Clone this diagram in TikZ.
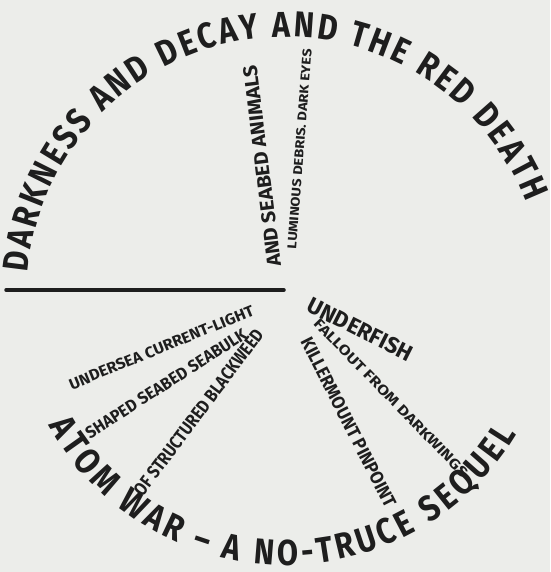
\documentclass[tikz,border=0pt]{standalone}
\usepackage{fontspec}
\setmainfont{Fira Sans}
\newfontfamily\hand{Fira Sans}[FakeStretch=0.85]
\usetikzlibrary{decorations.text}
\definecolor{paper}{RGB}{236,237,234}
\definecolor{ink}{RGB}{30,30,30}
\newcommand\arcfont{\hand\bfseries\fontsize{36}{36}\selectfont\color{ink}}
\newcommand\fitline[3]{\resizebox{#1pt}{#2pt}{\hand\bfseries #3}}
\begin{document}
\begin{tikzpicture}[x=1pt,y=1pt,
  inner/.style={inner sep=0pt, text=ink, anchor=center},
  rule/.style={line width=3.5pt, draw=ink, line cap=round}]
\fill[paper] (0,0) rectangle (550,572);
\useasboundingbox (0,0) rectangle (550,572);
\coordinate (c) at (285,277);
% outer arcs
\path[decorate, decoration={text along path, text align={fit to path},
  text={|\arcfont|DARKNESS AND DECAY AND THE RED DEATH}}]
  (c) ++(175:258) arc[start angle=175, end angle=21, radius=258];
\path[decorate, decoration={text along path, text align={fit to path},
  text={|\arcfont|ATOM WAR – A NO-TRUCE SEQUEL}}]
  (c) ++(209:270) arc[start angle=209, end angle=329, radius=270];
% dividing line
\coordinate (l1) at (6,282);
\coordinate (l2) at (284,282);
\draw[rule] (l1) -- (l2);
% inner lines
\node[inner, rotate=97] (sea) at (262,406) {\fitline{203}{14}{AND SEABED ANIMALS}};
\node[inner, rotate=85.5] (lum) at (299.5,423) {\fitline{200}{9}{LUMINOUS DEBRIS. DARK EYES}};
\node[inner, rotate=22.3] (und) at (161.5,224.5) {\fitline{198}{11}{UNDERSEA CURRENT-LIGHT}};
\node[inner, rotate=32.7] (shp) at (166,188.5) {\fitline{188}{12}{SHAPED SEABED SEABULK}};
\node[inner, rotate=53.1] (blk) at (198.5,159.5) {\fitline{203}{13}{OF STRUCTURED BLACKWEED}};
\node[inner, rotate=-26.8] (ufs) at (360.5,242.5) {\fitline{115}{16}{UNDERFISH}};
\node[inner, rotate=-45.8] (fal) at (391,174) {\fitline{214}{10}{FALLOUT FROM DARKWINGS}};
\node[inner, rotate=-63] (kil) at (348.5,149.5) {\fitline{188}{13}{KILLERMOUNT PINPOINT}};
\end{tikzpicture}
\end{document}
